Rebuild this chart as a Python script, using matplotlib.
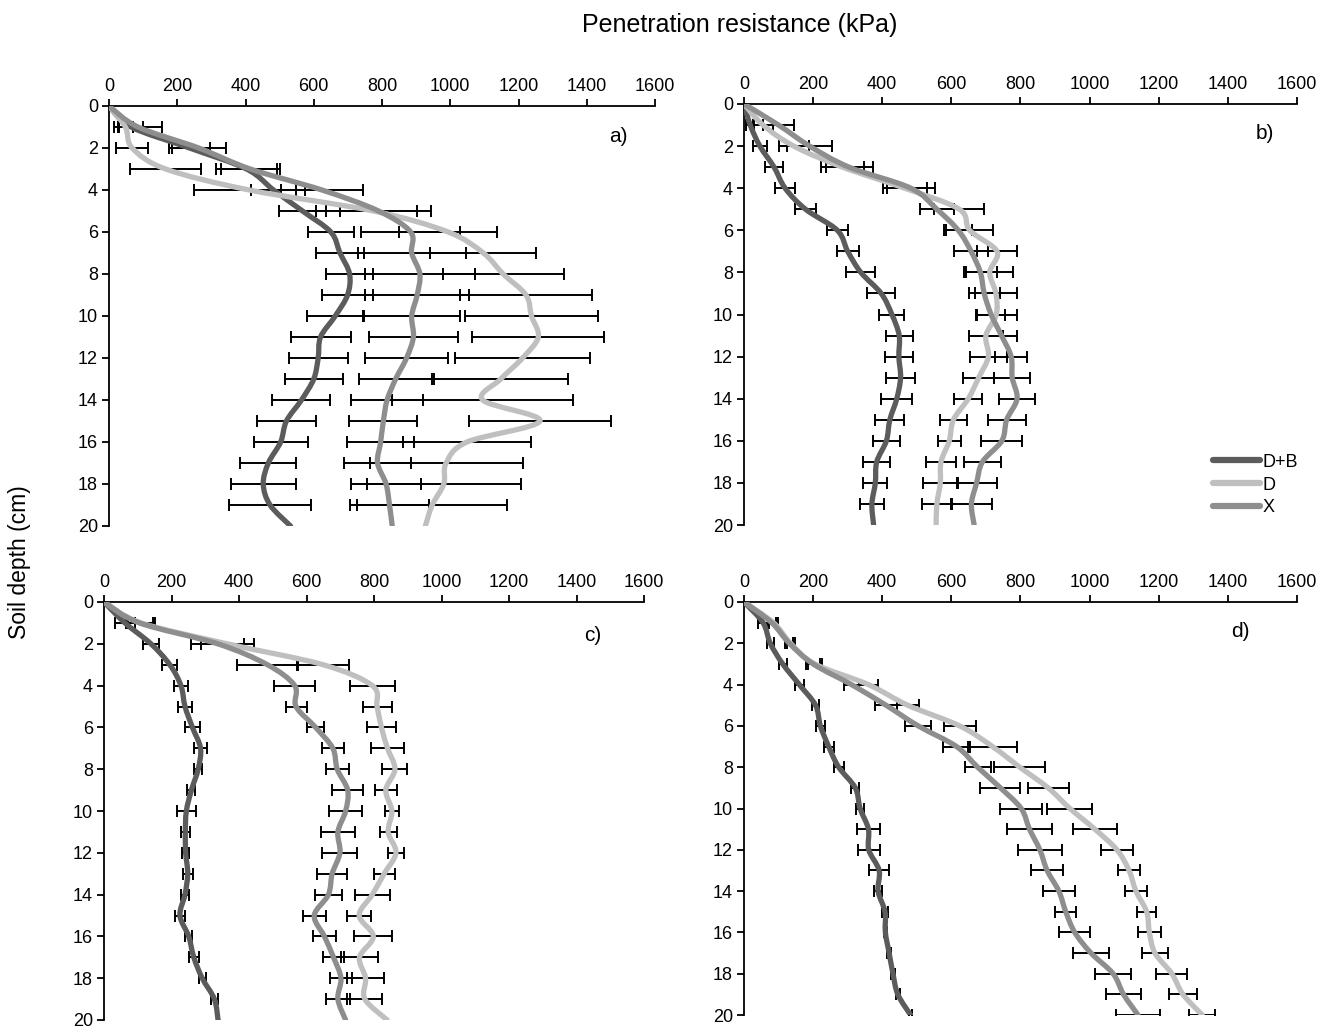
import numpy as np
import matplotlib
matplotlib.use("Agg")
import matplotlib.pyplot as plt
from matplotlib.path import Path
from matplotlib.patches import PathPatch
from matplotlib.lines import Line2D

plt.rcParams["font.family"] = ["Liberation Sans", "DejaVu Sans"]

nan = np.nan
depth = list(range(0, 21))
series_names = ["D+B", "D", "X"]
series_colors = ["#5c5c5c", "#bfbfbf", "#8e8e8e"]
panel_labels = ["a)", "b)", "c)", "d)"]
x_ticks = [0, 200, 400, 600, 800, 1000, 1200, 1400, 1600]
y_ticks = [0, 2, 4, 6, 8, 10, 12, 14, 16, 18, 20]

# panel a
a_db_mean = [0, 65, 236, 403, 482, 567, 650, 677, 705, 699, 663, 620, 613, 600, 564, 520, 503, 467, 452, 472, 532]
a_db_sd = [nan, 35, 61, 88, 67, 68, 68, 69, 70, 75, 84, 88, 86, 85, 85, 87, 79, 82, 95, 120, nan]
a_d_mean = [0, 48, 68, 166, 411, 775, 994, 1097, 1155, 1222, 1238, 1258, 1212, 1148, 1095, 1263, 1049, 988, 981, 947, 927]
a_d_sd = [nan, 22, 47, 103, 163, 168, 144, 155, 177, 193, 196, 193, 197, 196, 265, 209, 188, 224, 226, 220, nan]
a_x_mean = [0, 85, 263, 414, 624, 790, 884, 887, 911, 903, 887, 892, 872, 840, 815, 804, 796, 787, 812, 822, 830]
a_x_sd = [nan, 70, 79, 87, 120, 113, 146, 158, 161, 152, 143, 130, 122, 106, 106, 100, 98, 97, 102, 115, nan]

# panel b
b_db_mean = [0, 18, 46, 87, 119, 178, 270, 300, 338, 397, 428, 449, 448, 453, 442, 422, 412, 384, 380, 370, 375]
b_db_sd = [nan, 12, 21, 27, 30, 30, 30, 32, 42, 41, 36, 39, 40, 42, 45, 42, 40, 39, 35, 35, nan]
b_d_mean = [0, 55, 144, 285, 465, 623, 653, 732, 711, 729, 730, 700, 707, 679, 649, 606, 594, 570, 568, 558, 556]
b_d_sd = [nan, 30, 43, 61, 64, 72, 68, 59, 68, 62, 60, 50, 53, 45, 41, 38, 34, 43, 50, 43, nan]
b_x_mean = [0, 100, 190, 304, 483, 558, 620, 657, 684, 695, 715, 745, 773, 776, 790, 760, 746, 690, 673, 658, 666]
b_x_sd = [nan, 45, 65, 68, 70, 50, 40, 50, 47, 45, 40, 45, 47, 52, 52, 55, 59, 53, 58, 59, nan]

# panel c
c_db_mean = [0, 62, 139, 195, 228, 240, 262, 286, 279, 259, 244, 241, 242, 248, 240, 225, 251, 266, 291, 327, 338]
c_db_sd = [nan, 30, 24, 22, 20, 21, 23, 20, 12, 12, 28, 13, 11, 15, 12, 14, 10, 15, 10, 10, nan]
c_d_mean = [0, 110, 365, 649, 795, 809, 822, 840, 862, 835, 853, 842, 865, 830, 795, 756, 798, 757, 775, 773, 839]
c_d_sd = [nan, 40, 78, 78, 66, 43, 42, 49, 37, 33, 21, 25, 25, 31, 52, 35, 56, 56, 54, 52, nan]
c_x_mean = [0, 105, 337, 484, 565, 569, 627, 678, 691, 722, 716, 693, 699, 676, 665, 623, 653, 680, 702, 693, 716]
c_x_sd = [nan, 40, 78, 90, 60, 31, 25, 32, 34, 46, 49, 51, 52, 45, 39, 34, 35, 32, 33, 36, nan]

# panel d
d_db_mean = [0, 55, 76, 112, 160, 207, 221, 245, 274, 322, 336, 360, 361, 391, 388, 408, 409, 420, 431, 445, 482]
d_db_sd = [nan, 15, 10, 12, 13, 11, 14, 14, 15, 11, 12, 33, 32, 28, 12, 8, 5, 5, 5, 5, 5]
d_d_mean = [0, 85, 135, 205, 360, 474, 624, 719, 798, 880, 943, 1015, 1079, 1114, 1134, 1165, 1173, 1189, 1238, 1270, 1326]
d_d_sd = [nan, 12, 12, 20, 27, 31, 46, 71, 74, 59, 65, 64, 47, 32, 33, 28, 34, 37, 45, 40, 38]
d_x_mean = [0, 80, 131, 200, 311, 411, 504, 615, 676, 742, 802, 826, 856, 877, 911, 931, 957, 1004, 1068, 1098, 1140]
d_x_sd = [nan, 12, 12, 20, 22, 33, 38, 39, 38, 58, 61, 65, 63, 46, 47, 30, 45, 51, 52, 52, 64]

panels = [
    [(a_db_mean, a_db_sd), (a_d_mean, a_d_sd), (a_x_mean, a_x_sd)],
    [(b_db_mean, b_db_sd), (b_d_mean, b_d_sd), (b_x_mean, b_x_sd)],
    [(c_db_mean, c_db_sd), (c_d_mean, c_d_sd), (c_x_mean, c_x_sd)],
    [(d_db_mean, d_db_sd), (d_d_mean, d_d_sd), (d_x_mean, d_x_sd)],
]

W, H = 1336, 1030
# axes boxes in pixels: left, right, top, bottom
boxes = [
    (109, 655, 106, 526),
    (744, 1297, 104, 525),
    (104, 644, 602, 1020),
    (744, 1297, 602, 1015),
]
# where the panel letters sit (kPa, cm)
label_pos = [(1494, 1.45), (1507, 1.4), (1449, 1.6), (1435, 1.45)]


def smooth_path(x, y, t=1 / 6):
    # catmull-rom style bezier, like excel "smoothed line"
    pts = np.column_stack([x, y]).astype(float)
    verts = [pts[0]]
    codes = [Path.MOVETO]
    n = len(pts)
    for i in range(n - 1):
        p0 = pts[i - 1] if i > 0 else pts[i]
        p1 = pts[i]
        p2 = pts[i + 1]
        p3 = pts[i + 2] if i + 2 < n else pts[i + 1]
        verts += [p1 + (p2 - p0) * t, p2 - (p3 - p1) * t, p2]
        codes += [Path.CURVE4] * 3
    return Path(verts, codes)


fig = plt.figure(figsize=(W / 100, H / 100), dpi=100)

for k, (l, r, t, b) in enumerate(boxes):
    ax = fig.add_axes([l / W, 1 - b / H, (r - l) / W, (b - t) / H])
    ax.set_xlim(0, 1600)
    ax.set_ylim(20, 0)
    ax.spines["right"].set_visible(False)
    ax.spines["bottom"].set_visible(False)
    ax.spines["top"].set_linewidth(1.3)
    ax.spines["left"].set_linewidth(1.3)
    ax.xaxis.tick_top()
    ax.set_xticks(x_ticks)
    ax.set_yticks(y_ticks)
    ax.tick_params(axis="both", labelsize=13, width=1.3, length=5,
                   direction="out", pad=3)

    for (mean, sd), color in zip(panels[k], series_colors):
        mean = np.array(mean, dtype=float)
        sd = np.array(sd, dtype=float)
        dep = np.array(depth, dtype=float)
        ok = np.isfinite(sd)
        ax.errorbar(mean[ok], dep[ok], xerr=sd[ok], fmt="none", ecolor="black",
                    elinewidth=1.4, capsize=4, capthick=1.4, zorder=2)
    for (mean, sd), color in zip(panels[k], series_colors):
        patch = PathPatch(smooth_path(mean, depth), fill=False, edgecolor=color,
                          lw=3.8, capstyle="round", joinstyle="round", zorder=3)
        ax.add_patch(patch)

    lx, ly = label_pos[k]
    ax.text(lx, ly, panel_labels[k], fontsize=15, ha="center", va="center")

handles = [Line2D([], [], color=c, lw=4.5, solid_capstyle="round")
           for c in series_colors]
fig.legend(handles, series_names, loc="center left",
           bbox_to_anchor=(1213 / W, 1 - 485 / H), frameon=False, fontsize=13,
           handlelength=2.6, handletextpad=0.15, labelspacing=0.32,
           borderaxespad=0, borderpad=0)

fig.text(740 / W, 1 - 25 / H, "Penetration resistance (kPa)", ha="center",
         va="center", fontsize=18)
fig.text(20 / W, 1 - 562 / H, "Soil depth (cm)", ha="center", va="center",
         rotation=90, fontsize=16.5)

fig.savefig("out.png", dpi=100)
